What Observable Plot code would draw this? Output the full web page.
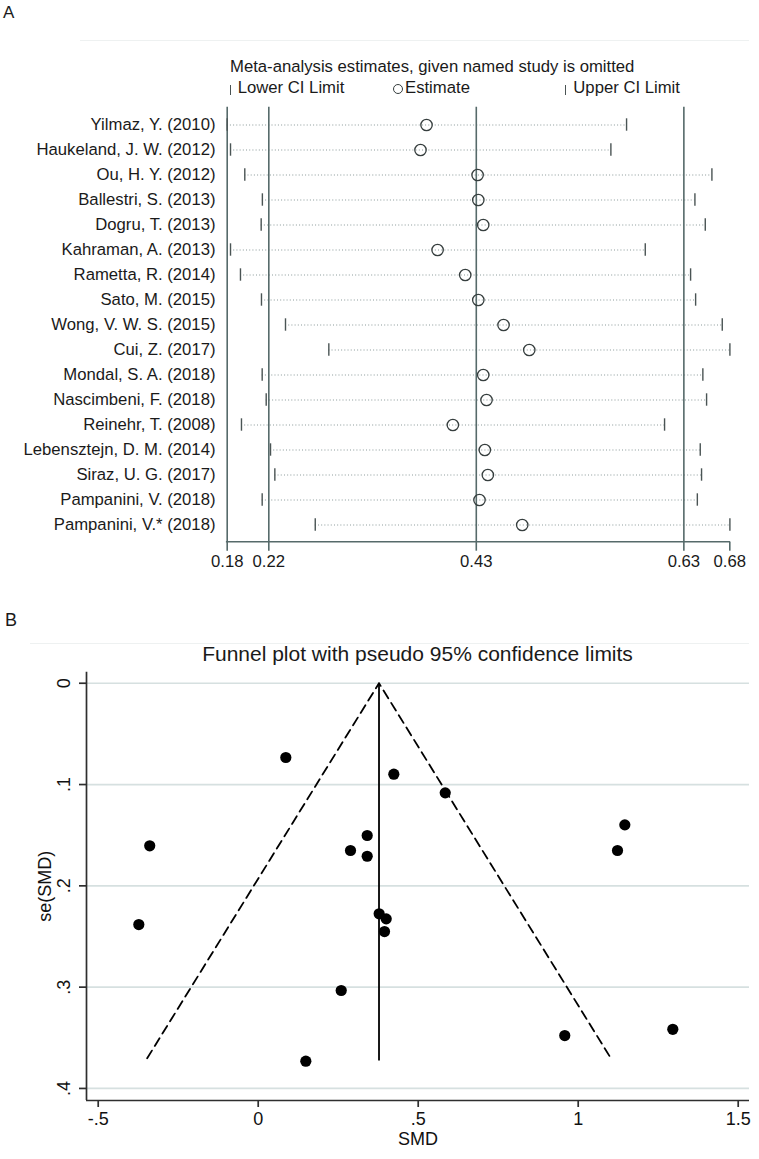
<!DOCTYPE html>
<html><head><meta charset="utf-8">
<script src="https://cdn.jsdelivr.net/npm/d3@7"></script>
<script src="https://cdn.jsdelivr.net/npm/@observablehq/plot@0.6"></script>
<style>
body{margin:0;background:#fff;}
#wrap{position:relative;width:759px;height:1159px;overflow:hidden;font-family:"Liberation Sans",Arial,sans-serif;color:#1a1a1a;}
.abs{position:absolute;white-space:nowrap;line-height:1;}
#wrap svg{position:absolute;left:0;overflow:visible;}
</style></head><body><div id="wrap"></div>
<script>
// ---------- Panel A data (leave-one-out sensitivity analysis) ----------
const studies = [
  "Yilmaz, Y. (2010)", "Haukeland, J. W. (2012)", "Ou, H. Y. (2012)", "Ballestri, S. (2013)",
  "Dogru, T. (2013)", "Kahraman, A. (2013)", "Rametta, R. (2014)", "Sato, M. (2015)",
  "Wong, V. W. S. (2015)", "Cui, Z. (2017)", "Mondal, S. A. (2018)", "Nascimbeni, F. (2018)",
  "Reinehr, T. (2008)", "Lebensztejn, D. M. (2014)", "Siraz, U. G. (2017)", "Pampanini, V. (2018)",
  "Pampanini, V.* (2018)"
];
const lowerCI  = [0.180, 0.1833, 0.1975, 0.2150, 0.2138, 0.1833, 0.1932, 0.2141, 0.2380, 0.2811, 0.2148, 0.2188, 0.1942, 0.2231, 0.2274, 0.2148, 0.2676];
const estimate = [0.3783, 0.3723, 0.4291, 0.4298, 0.4347, 0.3893, 0.4168, 0.4298, 0.4549, 0.4805, 0.4347, 0.4380, 0.4045, 0.4363, 0.4393, 0.4310, 0.4735];
const upperCI  = [0.5773, 0.5617, 0.6622, 0.6453, 0.6556, 0.5959, 0.6410, 0.6460, 0.6725, 0.6801, 0.6532, 0.6569, 0.6151, 0.6506, 0.6519, 0.6477, 0.6801];
const overallLines = [0.2214, 0.4278, 0.6343];
const axisATicks = [0.18, 0.2214, 0.4278, 0.6343, 0.68];

// ---------- Panel B data (funnel plot) ----------
const smd   = [0.0863, -0.339, 0.3406, 0.2884, 0.3406, 0.4238, 0.5844, 1.1457, 1.1228, -0.3731, 0.2594, 0.1488, 0.3780, 0.4000, 0.3947, 0.9580, 1.2956];
const seSMD = [0.0733, 0.1605, 0.1503, 0.1651, 0.1708, 0.0898, 0.1082, 0.1398, 0.1651, 0.2382, 0.3033, 0.3731, 0.2276, 0.2326, 0.2451, 0.3478, 0.3416];
const pooledSMD = 0.3775;
const pooledLineSE = [0, 0.373];
const pseudoX  = [-0.347, 0.3775, 1.102];
const pseudoSE = [0.3702, 0, 0.3702];
const smdTicks = [-0.5, 0, 0.5, 1, 1.5];
const seTicks  = [0, 0.1, 0.2, 0.3, 0.4];
const xDomainB = [-0.5366, 1.5353];
const yDomainB = [-0.0109, 0.4119];

const wrap = document.getElementById("wrap");
function addText(txt, left, top, size, extra) {
  const d = document.createElement("div");
  d.className = "abs"; d.textContent = txt;
  d.style.left = left + "px"; d.style.top = top + "px"; d.style.fontSize = size + "px";
  if (extra) Object.assign(d.style, extra);
  wrap.appendChild(d); return d;
}
function addBox(style) {
  const d = document.createElement("div");
  d.style.position = "absolute"; Object.assign(d.style, style);
  wrap.appendChild(d); return d;
}

// ---------- Panel A ----------
const lineColor = "#566a6a", tickColor = "#4a5454", dotLine = "#8a9999", circColor = "#363e3e";
const rowsA = studies.map((s, i) => ({study: s, lo: lowerCI[i], est: estimate[i], hi: upperCI[i]}));
const chartA = Plot.plot({
  width: 759, height: 600,
  marginLeft: 226.7, marginRight: 29.7, marginTop: 106.7, marginBottom: 58.3,
  style: {fontFamily: "'Liberation Sans', Arial, sans-serif", color: "#1a1a1a", background: "transparent"},
  x: {domain: [0.18, 0.68], label: null},
  y: {domain: studies, type: "band", paddingInner: 0, paddingOuter: 0.078, label: null},
  marks: [
    Plot.ruleY(rowsA, {y: "study", x1: "lo", x2: "hi", stroke: dotLine, strokeWidth: 1.1, strokeDasharray: "1,2.2"}),
    Plot.ruleX([axisATicks[0], ...overallLines], {stroke: lineColor, strokeWidth: 1.6}),
    Plot.tickX(rowsA, {x: "lo", y: "study", stroke: tickColor, strokeWidth: 1.4, insetTop: 6.3, insetBottom: 6.3}),
    Plot.tickX(rowsA, {x: "hi", y: "study", stroke: tickColor, strokeWidth: 1.4, insetTop: 6.3, insetBottom: 6.3}),
    Plot.dot(rowsA, {x: "est", y: "study", r: 5.7, stroke: circColor, strokeWidth: 1.3, fill: "none"}),
    Plot.axisX(axisATicks, {tickSize: 9, tickPadding: 4, stroke: lineColor, strokeWidth: 1.6, tickFormat: d3.format(".2f"), fontSize: 16.7, label: null}),
    Plot.axisY({tickSize: 0, tickPadding: 11.7, fontSize: 16.7, label: null})
  ]
});
chartA.style.top = "0px";
{
  const xA = chartA.scale("x");
  d3.select(chartA).append("line")
    .attr("x1", xA.apply(axisATicks[0]) - 0.8).attr("x2", xA.apply(axisATicks[axisATicks.length - 1]) + 0.8)
    .attr("y1", 541.7).attr("y2", 541.7)
    .attr("stroke", lineColor).attr("stroke-width", 1.6);
}
wrap.appendChild(chartA);

addText("A", 3, 3.9, 17);
addBox({left: "80px", top: "40px", width: "669px", height: "1px", background: "#eef1f1"});
addText("Meta-analysis estimates, given named study is omitted", 230, 58.9, 16.7);
addBox({left: "229.5px", top: "85px", width: "1.4px", height: "10px", background: tickColor});
addText("Lower CI Limit", 237.7, 79.9, 16.7);
addBox({left: "393px", top: "84.3px", width: "10px", height: "10px", border: "1.2px solid " + circColor, borderRadius: "50%", boxSizing: "border-box"});
addText("Estimate", 405, 79.9, 16.7);
addBox({left: "564.5px", top: "85px", width: "1.4px", height: "10px", background: tickColor});
addText("Upper CI Limit", 573.3, 79.9, 16.7);

// ---------- Panel B ----------
const gridColor = "#d6e0e0", axisColor = "#2e2e2e";
const pointsB = smd.map((s, i) => ({smd: s, se: seSMD[i]}));
const pseudo = pseudoX.map((x, i) => ({x, y: pseudoSE[i]}));
const fmtB = d => String(d).replace(/^(-?)0\./, "$1.");
const chartB = Plot.plot({
  width: 759, height: 519,
  marginLeft: 86, marginRight: 10, marginTop: 31.7, marginBottom: 59,
  style: {fontFamily: "'Liberation Sans', Arial, sans-serif", color: "#111", background: "transparent"},
  x: {domain: xDomainB, label: null},
  y: {domain: yDomainB, reverse: true, label: null},
  marks: [
    Plot.ruleY(seTicks, {stroke: gridColor, strokeWidth: 1.7}),
    Plot.ruleX([xDomainB[0]], {stroke: axisColor, strokeWidth: 1.7}),
    Plot.ruleY([yDomainB[1]], {stroke: axisColor, strokeWidth: 1.7}),
    Plot.line(pseudo, {x: "x", y: "y", stroke: "#000", strokeWidth: 1.8, strokeDasharray: "9,5.5"}),
    Plot.ruleX([pooledSMD], {y1: pooledLineSE[0], y2: pooledLineSE[1], stroke: "#000", strokeWidth: 1.8}),
    Plot.dot(pointsB, {x: "smd", y: "se", r: 5.6, fill: "#000"}),
    Plot.axisX(smdTicks, {tickSize: 7, tickPadding: 4.5, stroke: axisColor, strokeWidth: 1.7, fontSize: 18, tickFormat: fmtB, label: null}),
    Plot.axisY(seTicks, {tickSize: 7, stroke: axisColor, strokeWidth: 1.7, tickFormat: () => "", label: null}),
    Plot.text(seTicks, {y: d => d, text: fmtB, frameAnchor: "left", rotate: -90, dx: -16.7, lineAnchor: "bottom", textAnchor: "middle", fontSize: 18}),
    Plot.text(["se(SMD)"], {text: d => d, frameAnchor: "left", rotate: -90, dx: -36, lineAnchor: "bottom", textAnchor: "middle", fontSize: 18}),
    Plot.text(["SMD"], {text: d => d, frameAnchor: "bottom", dy: 31.7, lineAnchor: "top", textAnchor: "middle", fontSize: 18})
  ]
});
chartB.style.top = "640px";
wrap.appendChild(chartB);

addText("B", 5, 610.8, 18);
addBox({left: "30px", top: "642.5px", width: "719px", height: "1px", background: "#eef1f1"});
addText("Funnel plot with pseudo 95% confidence limits", 86, 643.2, 21, {width: "663px", textAlign: "center"});
</script></body></html>
